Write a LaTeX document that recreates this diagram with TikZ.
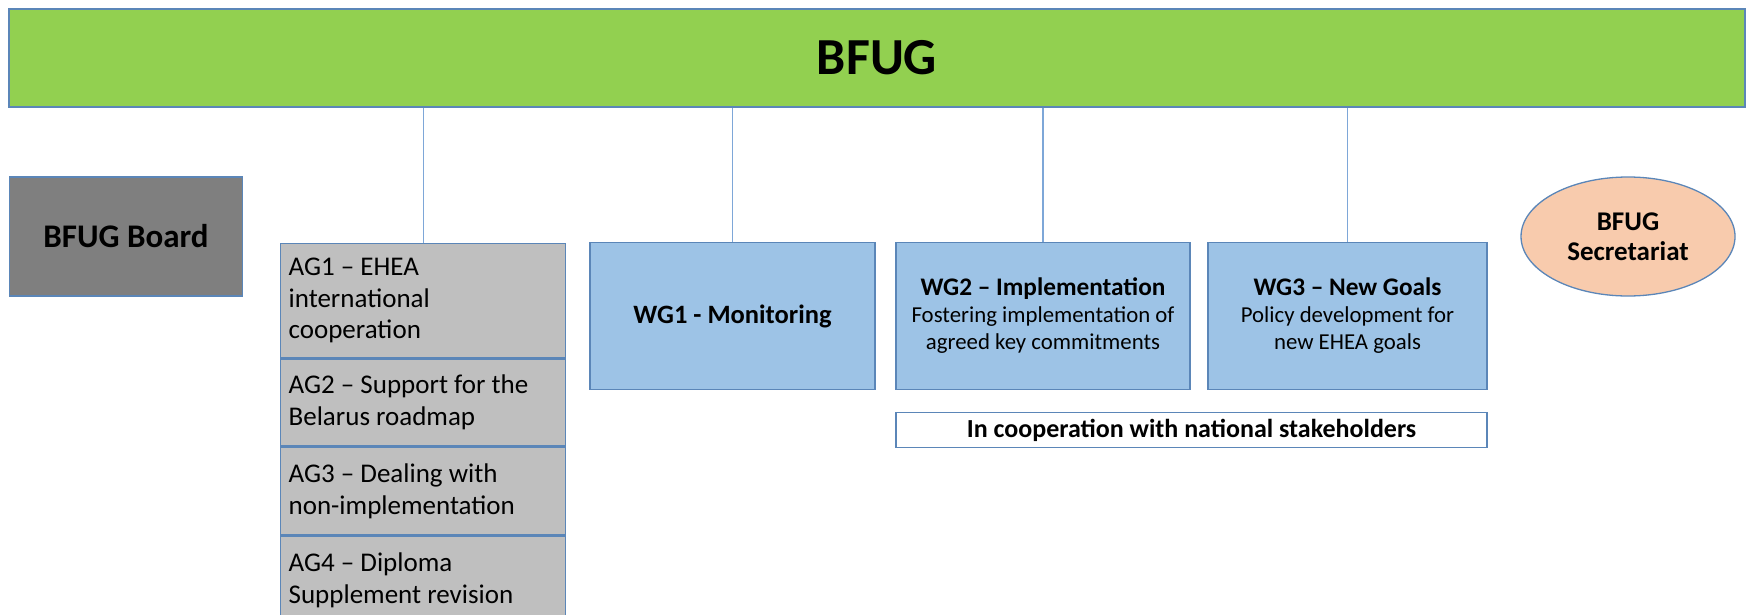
\documentclass[tikz,border=0pt]{standalone}
\usepackage{fontspec}
\setmainfont{Carlito}
\usetikzlibrary{shapes.geometric}
\definecolor{bfuggreen}{HTML}{92D050}
\definecolor{wgblue}{HTML}{9DC3E6}
\definecolor{edgeblue}{HTML}{5B86B8}
\definecolor{lineblue}{HTML}{7EA7D8}
\definecolor{boardgrey}{HTML}{7F7F7F}
\definecolor{aggrey}{HTML}{BFBFBF}
\definecolor{secpeach}{HTML}{F8CBAD}

\begin{document}
\begin{tikzpicture}[x=1pt,y=-1pt,
  box/.style={draw=edgeblue,line width=1.3pt,inner sep=0pt},
  agbox/.style={box,fill=aggrey,anchor=north west,minimum width=285pt,text width=269pt,align=flush left,font=\fontsize{27}{31.5}\selectfont},
  wgbox/.style={box,fill=wgblue,minimum height=146.5pt,align=center,font=\fontsize{22.8}{27}\selectfont},
  link/.style={draw=lineblue,line width=1.3pt}]
\clip (0,0) rectangle (1752,615);

\node[box,fill=bfuggreen,minimum width=1736pt,minimum height=98pt,font=\fontsize{52}{60}\selectfont\bfseries] (bfug) at (877,58) {BFUG};

\node[box,fill=boardgrey,minimum width=233pt,minimum height=119pt,font=\fontsize{33}{38}\selectfont\bfseries] (board) at (126,236.5) {BFUG Board};

% advisory groups, stacked
\node[agbox,minimum height=114.3pt] (ag1) at (280,242.7) {AG1 -- EHEA\\international\\cooperation};
\node[agbox,minimum height=87pt] (ag2) at (ag1.south west) {AG2 -- Support for the\\Belarus roadmap};
\node[agbox,minimum height=87.7pt] (ag3) at (ag2.south west) {AG3 -- Dealing with\\non-implementation};
\node[agbox,minimum height=88pt] (ag4) at (ag3.south west) {AG4 -- Diploma\\Supplement revision};

% working groups
\node[wgbox,minimum width=285pt] (wg1) at (732.5,316) {\bfseries\fontsize{26.5}{30}\selectfont WG1 - Monitoring};
\node[wgbox,minimum width=294pt] (wg2) at (1043,316) {{\fontsize{25.3}{30}\selectfont\bfseries WG2 -- Implementation}\\Fostering implementation of\\agreed key commitments};
\node[wgbox,minimum width=279pt] (wg3) at (1347.5,316) {{\fontsize{25.3}{30}\selectfont\bfseries WG3 -- New Goals}\\Policy development for\\new EHEA goals};

\node[box,fill=white,minimum width=591pt,minimum height=35pt,font=\fontsize{26}{30}\selectfont\bfseries] (stake) at (1191.5,430) {In cooperation with national stakeholders};

\node[ellipse,draw=edgeblue,line width=1.3pt,fill=secpeach,minimum width=214pt,minimum height=119pt,inner sep=0pt,align=center,font=\fontsize{27}{30}\selectfont\bfseries] (sec) at (1628,236.5) {BFUG\\Secretariat};

\foreach \g in {ag1,wg1,wg2,wg3}
  \draw[link] (bfug.south -| \g.north) -- (\g.north);
\end{tikzpicture}
\end{document}
